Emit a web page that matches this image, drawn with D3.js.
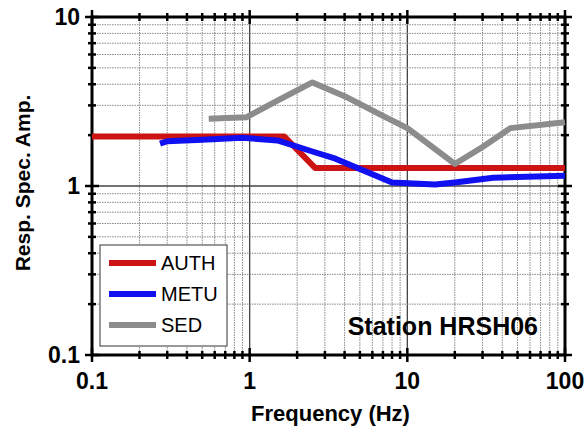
<!DOCTYPE html>
<html><head><meta charset="utf-8">
<script src="https://cdn.jsdelivr.net/npm/d3@7"></script>
<style>body{margin:0;background:#fff}text{font-family:"Liberation Sans",Arial,sans-serif}</style>
</head><body>
<svg id="chart" width="588" height="435"></svg>
<script>
const authF = [0.1, 1.66, 2.6, 100]
const authA = [1.96, 1.96, 1.28, 1.28]
const metuF = [0.27, 0.3, 0.5, 0.9, 1.5, 2.5, 3.5, 5, 8, 15, 20, 35, 100]
const metuA = [1.78, 1.84, 1.88, 1.93, 1.86, 1.6, 1.45, 1.26, 1.05, 1.02, 1.05, 1.12, 1.15]
const sedF = [0.55, 0.95, 1.5, 2.5, 4, 7, 10, 20, 30, 45, 100]
const sedA = [2.5, 2.55, 3.2, 4.1, 3.4, 2.6, 2.2, 1.35, 1.7, 2.2, 2.38]
const xTicks = [0.1, 1, 10, 100]
const yTicks = [0.1, 1, 10]

const svg = d3.select('#chart')
const L = 92, R = 565, T = 17, B = 355

const x = d3.scaleLog().domain([0.1, 100]).range([L, R])
const y = d3.scaleLog().domain([0.1, 10]).range([B, T])

// grid lines (all 1..9 per decade)
const minorX = [], minorY = []
for (let d = 0.1; d < 100; d *= 10) for (let k = 1; k < 10; k++) minorX.push(d * k)
for (let d = 0.1; d < 10; d *= 10) for (let k = 1; k < 10; k++) minorY.push(d * k)
const isMajor = (d, arr) => arr.includes(+d.toPrecision(3))
const grid = svg.append('g')
grid.selectAll('.gx').data(minorX.concat([100])).enter().append('line')
	.attr('x1', d => x(d)).attr('x2', d => x(d)).attr('y1', T).attr('y2', B)
	.attr('stroke', d => isMajor(d, xTicks) ? '#444' : '#888')
	.attr('stroke-width', d => isMajor(d, xTicks) ? 1.3 : 1).attr('stroke-dasharray', d => isMajor(d, xTicks) ? null : '1.5,1')
grid.selectAll('.gy').data(minorY.concat([10])).enter().append('line')
	.attr('y1', d => y(d)).attr('y2', d => y(d)).attr('x1', L).attr('x2', R)
	.attr('stroke', d => isMajor(d, yTicks) ? '#444' : '#888')
	.attr('stroke-width', d => isMajor(d, yTicks) ? 1.3 : 1).attr('stroke-dasharray', d => isMajor(d, yTicks) ? null : '1.5,1')

// ticks on all sides, straddling
const tk = svg.append('g').attr('stroke', '#000')
minorX.concat([100]).forEach(d => {
	const h = isMajor(d, xTicks) ? 7 : 4
	tk.append('line').attr('x1', x(d)).attr('x2', x(d)).attr('y1', B - h).attr('y2', B + h).attr('stroke-width', 2.5)
	tk.append('line').attr('x1', x(d)).attr('x2', x(d)).attr('y1', T - h).attr('y2', T + h).attr('stroke-width', 2.5)
})
minorY.concat([10]).forEach(d => {
	const h = isMajor(d, yTicks) ? 7 : 4
	tk.append('line').attr('y1', y(d)).attr('y2', y(d)).attr('x1', L - h).attr('x2', L + h).attr('stroke-width', 2.5)
	tk.append('line').attr('y1', y(d)).attr('y2', y(d)).attr('x1', R - h).attr('x2', R + h).attr('stroke-width', 2.5)
})
svg.append('rect').attr('x', L).attr('y', T).attr('width', R - L).attr('height', B - T)
	.attr('fill', 'none').attr('stroke', '#000').attr('stroke-width', 3)

// tick labels
svg.selectAll('.xl').data(xTicks).enter().append('text')
	.attr('x', d => x(d)).attr('y', B + 34).attr('text-anchor', 'middle')
	.attr('font-size', 23).attr('font-weight', 'bold').text(d => d)
svg.selectAll('.yl').data(yTicks).enter().append('text')
	.attr('x', L - 12).attr('y', d => y(d) + 8).attr('text-anchor', 'end')
	.attr('font-size', 23).attr('font-weight', 'bold').text(d => d)
svg.append('text').attr('x', (L + R) / 2 + 2).attr('y', 421).attr('text-anchor', 'middle')
	.attr('font-size', 22).attr('font-weight', 'bold').text('Frequency (Hz)')
svg.append('text').attr('transform', `translate(30, ${(T + B) / 2 - 3}) rotate(-90)`).attr('text-anchor', 'middle')
	.attr('font-size', 21).attr('font-weight', 'bold').text('Resp. Spec. Amp.')

// curves
const line = d3.line().x(d => x(d[0])).y(d => y(d[1]))
const series = [
	{ name: 'AUTH', f: authF, a: authA, color: '#cc1414' },
	{ name: 'METU', f: metuF, a: metuA, color: '#1010f0' },
	{ name: 'SED', f: sedF, a: sedA, color: '#8c8c8c' }
]
svg.selectAll('path.curve').data(series).enter().append('path').attr('class', 'curve')
	.attr('d', s => line(s.f.map((f, i) => [f, s.a[i]])))
	.attr('fill', 'none').attr('stroke', s => s.color).attr('stroke-width', 6)
	.attr('stroke-linejoin', 'round')

// legend
svg.append('rect').attr('x', 100).attr('y', 245).attr('width', 127).attr('height', 101)
	.attr('fill', '#fff').attr('stroke', '#333').attr('stroke-width', 1)
series.forEach((s, i) => {
	const yy = 263 + i * 31
	svg.append('line').attr('x1', 109).attr('x2', 156).attr('y1', yy).attr('y2', yy)
		.attr('stroke', s.color).attr('stroke-width', 6)
	svg.append('text').attr('x', 161).attr('y', yy + 7).attr('font-size', 20).text(s.name)
})
svg.append('text').attr('x', 538).attr('y', 335).attr('text-anchor', 'end')
	.attr('font-size', 25).attr('font-weight', 'bold').text('Station HRSH06')
</script>
</body></html>
